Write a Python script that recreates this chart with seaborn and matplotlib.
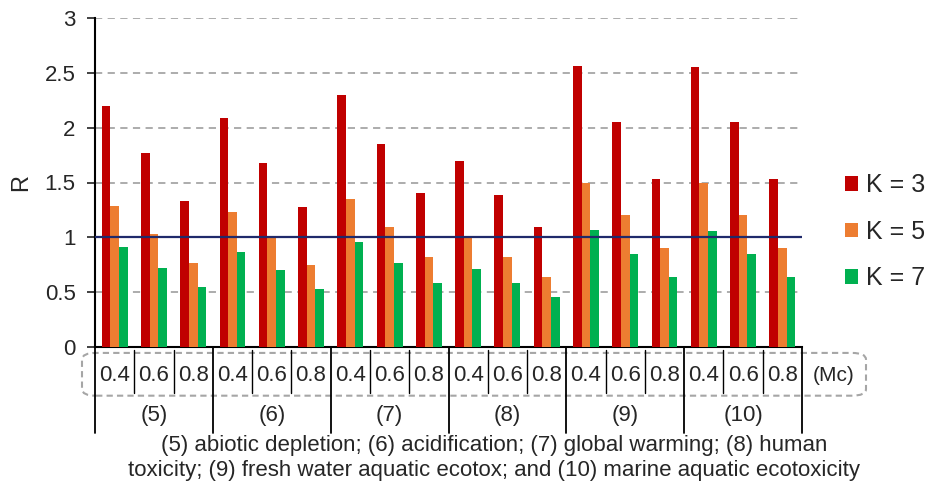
import matplotlib
matplotlib.use("Agg")
import matplotlib.pyplot as plt
import matplotlib.transforms as mtransforms
from matplotlib.patches import FancyBboxPatch
import seaborn as sns
import pandas as pd

# ---- data ----
groups = ["(5)", "(6)", "(7)", "(8)", "(9)", "(10)"]
mc_levels = ["0.4", "0.6", "0.8"]
k_labels = ["K = 3", "K = 5", "K = 7"]
k3 = [2.20, 1.77, 1.33, 2.09, 1.68, 1.28, 2.30, 1.85, 1.40,
      1.70, 1.39, 1.09, 2.56, 2.05, 1.53, 2.55, 2.05, 1.53]
k5 = [1.29, 1.03, 0.77, 1.23, 1.00, 0.75, 1.35, 1.09, 0.82,
      1.00, 0.82, 0.64, 1.50, 1.20, 0.90, 1.50, 1.20, 0.90]
k7 = [0.91, 0.72, 0.55, 0.87, 0.70, 0.53, 0.96, 0.77, 0.58,
      0.71, 0.58, 0.46, 1.07, 0.85, 0.64, 1.06, 0.85, 0.64]
y_ticks = [0, 0.5, 1, 1.5, 2, 2.5, 3]
y_tick_labels = ["0", "0.5", "1", "1.5", "2", "2.5", "3"]
caption = ("(5) abiotic depletion; (6) acidification; (7) global warming; (8) human\n"
           "toxicity; (9) fresh water aquatic ecotox; and (10) marine aquatic ecotoxicity")

colors = ["#C00000", "#ED7D31", "#00B050"]

cats = [f"{g} {m}" for g in groups for m in mc_levels]
rows = []
for vals, k in zip([k3, k5, k7], k_labels):
    for c, v in zip(cats, vals):
        rows.append({"cat": c, "K": k, "R": v})
df = pd.DataFrame(rows)

sns.set_style("white")
plt.rcParams["font.family"] = ["Liberation Sans", "DejaVu Sans"]

fig = plt.figure(figsize=(9.27, 4.93), dpi=100)
ax = fig.add_axes([95 / 927, 1 - 347 / 493, 707 / 927, 329 / 493])

sns.barplot(data=df, x="cat", y="R", hue="K", order=cats, hue_order=k_labels,
            palette=colors, width=0.66, ax=ax, saturation=1, legend=True, zorder=3,
            linewidth=0, edgecolor="none")

ax.set_ylim(0, 3)
ax.set_xlim(-0.5, len(cats) - 0.5)
ax.set_yticks(y_ticks)
ax.set_yticklabels(y_tick_labels, fontsize=16)
ax.tick_params(axis="y", length=6, width=1.3, direction="out", pad=8, color="#333333", left=True)
ax.set_xticks([])
ax.set_xlabel("")
ax.set_ylabel("R", fontsize=17, labelpad=9)

for s in ["top", "right"]:
    ax.spines[s].set_visible(False)
for s in ["left", "bottom"]:
    ax.spines[s].set_color("black")
    ax.spines[s].set_linewidth(1.5)

# grid
for yv in y_ticks[1:]:
    if yv == 1:
        continue
    ax.axhline(yv, color="#A6A6A6", lw=1.3, ls=(0, (4, 3)), zorder=1)
ax.axhline(1, color="#1F2A6B", lw=1.6, zorder=4)

# legend
handles, labels = ax.get_legend_handles_labels()
ax.legend(handles, labels, loc="center left", bbox_to_anchor=(1.061, 0.35), frameon=False,
          fontsize=18, handlelength=0.52, handleheight=0.52, handletextpad=0.3,
          labelspacing=0.9, borderaxespad=0, borderpad=0)

# category axis decorations
trans = mtransforms.blended_transform_factory(ax.transData, ax.transAxes)
n = len(cats)
for i in range(n + 1):
    xb = i - 0.5
    if i % 3 == 0:
        ax.plot([xb, xb], [0, -0.26], color="black", lw=1.3, transform=trans, clip_on=False)
    else:
        ax.plot([xb, xb], [-0.01, -0.14], color="black", lw=1.0, transform=trans, clip_on=False)

for i, c in enumerate(cats):
    ax.text(i, -0.088, c.split()[1], transform=trans, ha="center", va="center", fontsize=16)
for gi, g in enumerate(groups):
    ax.text(gi * 3 + 1, -0.208, g, transform=trans, ha="center", va="center", fontsize=16)
ax.text(n - 0.5 + 0.8, -0.088, "(Mc)", transform=trans, ha="center", va="center", fontsize=15)

box = FancyBboxPatch((-13 / 707, -0.148), (866 - 82) / 707, 0.13,
                     boxstyle="round,pad=0,rounding_size=0.02",
                     transform=ax.transAxes, clip_on=False, fill=False,
                     edgecolor="#A6A6A6", lw=1.5, ls=(0, (3, 2)))
ax.add_patch(box)

fig.text(494 / 927, 1 - 458 / 493, caption, ha="center", va="center", fontsize=16,
         linespacing=1.2)

fig.savefig("out.png", dpi=100)
